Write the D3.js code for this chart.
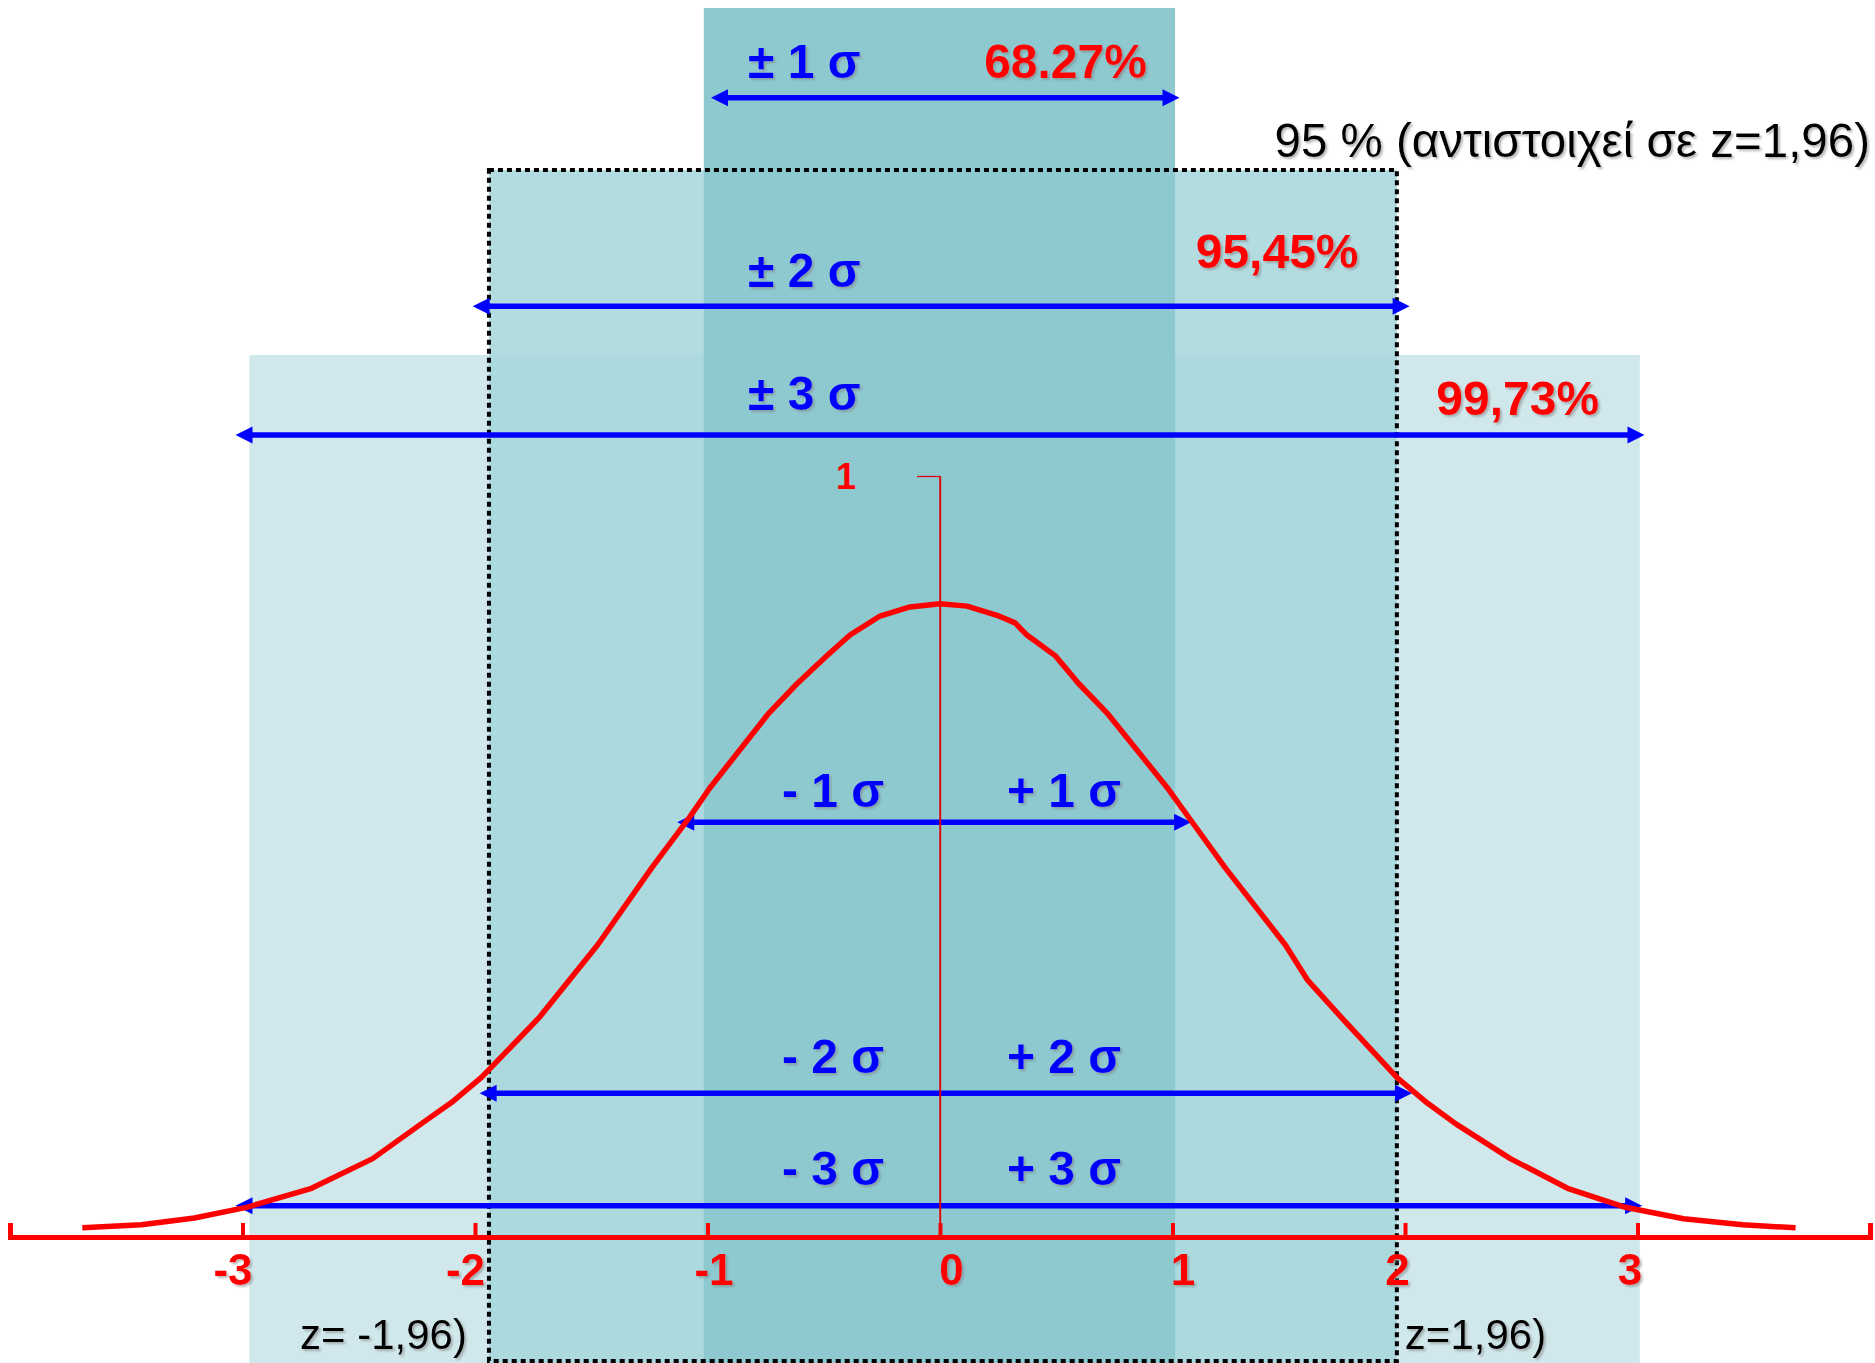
<!DOCTYPE html>
<html>
<head>
<meta charset="utf-8">
<script src="https://cdn.jsdelivr.net/npm/d3@7"></script>
<style>
  html, body { margin: 0; padding: 0; background: #fff; }
  svg { display: block; }
  text { font-family: "Liberation Sans", Arial, Helvetica, sans-serif; }
</style>
</head>
<body>
<svg id="chart" width="1875" height="1363"></svg>
<script>
// Bell curve vertices: z position (in σ) and curve height
const curveZ = [-3.689, -3.435, -3.207, -2.983, -2.703, -2.440, -2.230, -2.100, -1.971, -1.722,
                -1.593, -1.472, -1.240, -1.076, -0.990, -0.740, -0.615, -0.482, -0.387, -0.258,
                -0.129, 0.000, 0.116, 0.245, 0.323, 0.374, 0.495, 0.594, 0.723, 0.981,
                1.085, 1.227, 1.485, 1.580, 1.722, 1.967, 2.096, 2.217, 2.453, 2.699,
                2.948, 3.198, 3.452, 3.680];
const curveH = [0.012, 0.016, 0.025, 0.039, 0.064, 0.103, 0.149, 0.177, 0.210, 0.289,
                0.338, 0.384, 0.485, 0.552, 0.590, 0.687, 0.727, 0.765, 0.791, 0.816,
                0.828, 0.832, 0.829, 0.817, 0.807, 0.791, 0.764, 0.728, 0.687, 0.589,
                0.545, 0.485, 0.384, 0.338, 0.290, 0.209, 0.176, 0.149, 0.103, 0.064,
                0.039, 0.024, 0.016, 0.012];

// Axis ticks
const xTicks = [-3, -2, -1, 0, 1, 2, 3];
const yTicks = [1];

// Shaded intervals (σ units) and the level where each shading starts
const bandLo  = [-2.97, -1.94, -1.016];
const bandHi  = [3.01, 1.965, 1.011];
const bandTop = [1.159, 1.402, 1.615];

// Upper interval arrows: ± kσ and the share they cover
const rangeLabels   = ["± 1 σ", "± 2 σ", "± 3 σ"];
const percentLabels = ["68.27%", "95,45%", "99,73%"];
const rangeFrom  = [-0.985, -2.01, -3.03];
const rangeTo    = [1.03, 2.02, 3.03];
const rangeLevel = [1.497, 1.223, 1.054];

// Lower arrows drawn across the curve
const lowLeftLabels  = ["- 1 σ", "- 2 σ", "- 3 σ"];
const lowRightLabels = ["+ 1 σ", "+ 2 σ", "+ 3 σ"];
const lowFrom  = [-1.13, -1.98, -3.03];
const lowTo    = [1.08, 2.03, 3.02];
const lowLevel = [0.545, 0.189, 0.041];

// 95 % interval notes
const note95    = "95 % (αντιστοιχεί σε z=1,96)";
const noteLeft  = "z= -1,96)";
const noteRight = "z=1,96)";

const W = 1875, H = 1363;
const svg = d3.select("#chart");

const x = d3.scaleLinear().domain([-4, 4]).range([10, 1870]);
const y = d3.scaleLinear().domain([0, 1]).range([1237, 476]);

// soft drop shadow used by the labels
const defs = svg.append("defs");
const f = defs.append("filter").attr("id", "shadow")
  .attr("x", "-10%").attr("y", "-20%").attr("width", "130%").attr("height", "160%");
f.append("feDropShadow").attr("dx", 2).attr("dy", 2).attr("stdDeviation", 1.2)
  .attr("flood-color", "#7f7f7f").attr("flood-opacity", 0.55);

// background
svg.append("rect").attr("width", W).attr("height", H).attr("fill", "#fff");

// shaded intervals
const bandFill = ["#D0E7EB", "rgb(166,214,219)", "#8DC9CF"];
const bandOpacity = [1, 0.85, 1];
svg.append("g").selectAll("rect").data(bandLo).join("rect")
  .attr("x", (d, i) => x(bandLo[i]))
  .attr("y", (d, i) => y(bandTop[i]))
  .attr("width", (d, i) => x(bandHi[i]) - x(bandLo[i]))
  .attr("height", (d, i) => H - y(bandTop[i]))
  .attr("fill", (d, i) => bandFill[i])
  .attr("fill-opacity", (d, i) => bandOpacity[i]);

// dotted frame around the 95 % region
svg.append("rect")
  .attr("x", x(bandLo[1])).attr("y", y(bandTop[1]))
  .attr("width", x(bandHi[1]) - x(bandLo[1]))
  .attr("height", H - 2 - y(bandTop[1]))
  .attr("fill", "none").attr("stroke", "#000")
  .attr("stroke-width", 4).attr("stroke-dasharray", "5 4");

// double-headed arrows
const headLen = 17, headHalf = 8.5;
function arrow(g, z0, z1, level) {
  const x0 = x(z0), x1 = x(z1), yy = y(level);
  g.append("line").attr("x1", x0 + headLen - 2).attr("x2", x1 - headLen + 2)
    .attr("y1", yy).attr("y2", yy)
    .attr("stroke", "#0000FF").attr("stroke-width", 5.5);
  g.append("path")
    .attr("d", `M${x0},${yy}L${x0 + headLen},${yy - headHalf}L${x0 + headLen},${yy + headHalf}Z`)
    .attr("fill", "#0000FF");
  g.append("path")
    .attr("d", `M${x1},${yy}L${x1 - headLen},${yy - headHalf}L${x1 - headLen},${yy + headHalf}Z`)
    .attr("fill", "#0000FF");
}
const arrows = svg.append("g");
rangeFrom.forEach((d, i) => arrow(arrows, rangeFrom[i], rangeTo[i], rangeLevel[i]));
lowFrom.forEach((d, i) => arrow(arrows, lowFrom[i], lowTo[i], lowLevel[i]));

// labels for the arrows
const bold48 = sel => sel.attr("font-size", 48).attr("font-weight", "bold").attr("filter", "url(#shadow)");
const rangeGap = [20, 19, 25];
svg.append("g").selectAll("text").data(rangeLabels).join("text")
  .attr("x", x(-0.826)).attr("y", (d, i) => y(rangeLevel[i]) - rangeGap[i])
  .attr("fill", "#0000FF").call(bold48).text(d => d);
const pctRight = [0.89, 1.80, 2.835];
const pctGap = [20, 38, 20];
svg.append("g").selectAll("text").data(percentLabels).join("text")
  .attr("x", (d, i) => x(pctRight[i])).attr("y", (d, i) => y(rangeLevel[i]) - pctGap[i])
  .attr("text-anchor", "end")
  .attr("fill", "#FF0000").call(bold48).text(d => d);
const lowGap = [15, 20, 21];
svg.append("g").selectAll("text").data(lowLeftLabels).join("text")
  .attr("x", x(-0.68)).attr("y", (d, i) => y(lowLevel[i]) - lowGap[i])
  .attr("fill", "#0000FF").call(bold48).text(d => d);
svg.append("g").selectAll("text").data(lowRightLabels).join("text")
  .attr("x", x(0.288)).attr("y", (d, i) => y(lowLevel[i]) - lowGap[i])
  .attr("fill", "#0000FF").call(bold48).text(d => d);

// notes for the 95 % region
const note = sel => sel.attr("fill", "#000").attr("filter", "url(#shadow)");
svg.append("text").attr("x", 1870).attr("y", 157).attr("text-anchor", "end")
  .attr("font-size", 47.5).call(note).text(note95);
svg.append("text").attr("x", x(bandLo[1]) - 22).attr("y", 1349).attr("text-anchor", "end")
  .attr("font-size", 42).call(note).text(noteLeft);
svg.append("text").attr("x", x(bandHi[1]) + 8).attr("y", 1349)
  .attr("font-size", 42).call(note).text(noteRight);

// horizontal axis with upward ticks
const labelShift = { "-3": -10, "-2": -10, "-1": 6, "0": 11, "1": 10, "2": -8, "3": -8 };
const xAxis = d3.axisBottom(x).tickValues(xTicks).tickSizeInner(-14).tickSizeOuter(-14)
  .tickFormat(d => String(d));
const gx = svg.append("g").attr("transform", `translate(0,${y(0)})`).call(xAxis);
gx.select(".domain").attr("stroke", "#FF0000").attr("stroke-width", 5).attr("fill", "none");
gx.selectAll(".tick line").attr("stroke", "#FF0000").attr("stroke-width", 4);
gx.selectAll(".tick text")
  .attr("fill", "#FF0000").attr("font-size", 44).attr("font-weight", "bold")
  .attr("font-family", "'Liberation Sans', Arial, sans-serif")
  .attr("filter", "url(#shadow)")
  .attr("y", 48).attr("dy", 0)
  .attr("text-anchor", "middle")
  .attr("x", d => labelShift[String(d)]);

// vertical reference axis at the mean
const yAxis = d3.axisLeft(y).tickValues(yTicks).tickSizeInner(23).tickSizeOuter(0)
  .tickPadding(61).tickFormat(d3.format("d"));
const gy = svg.append("g").attr("transform", `translate(${x(0)},0)`).call(yAxis);
gy.select(".domain").attr("stroke", "#E00000").attr("stroke-width", 1.3);
gy.selectAll(".tick line").attr("stroke", "#E00000").attr("stroke-width", 1.3);
gy.selectAll(".tick text")
  .attr("fill", "#FF0000").attr("font-size", 36).attr("font-weight", "bold")
  .attr("font-family", "'Liberation Sans', Arial, sans-serif")
  .attr("dy", "0.36em");

// bell curve
const pts = curveZ.map((z, i) => [z, curveH[i]]);
svg.append("path")
  .attr("d", d3.line().x(d => x(d[0])).y(d => y(d[1]))(pts))
  .attr("fill", "none").attr("stroke", "#FF0000").attr("stroke-width", 5.5)
  .attr("stroke-linejoin", "round");

// redraw the mean line above the curve
svg.append("line").attr("x1", x(0)).attr("x2", x(0)).attr("y1", y(1)).attr("y2", y(0))
  .attr("stroke", "#E00000").attr("stroke-width", 1.3);
</script>
</body>
</html>
